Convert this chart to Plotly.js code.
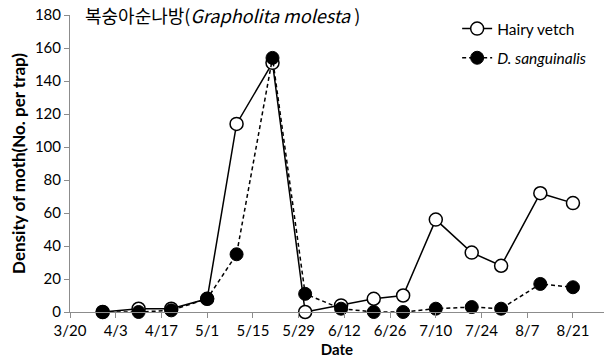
<!DOCTYPE html>
<html>
<head>
<meta charset="utf-8">
<script src="https://cdn.plot.ly/plotly-3.0.1.min.js"></script>
<style>html,body{margin:0;padding:0;background:#fff;}#chart{width:604px;height:362px;}</style>
</head>
<body>
<div id="chart"></div>
<script>
const dates = ['2013-03-30','2013-04-10','2013-04-20','2013-05-01','2013-05-10','2013-05-21','2013-05-31','2013-06-11','2013-06-21','2013-06-30','2013-07-10','2013-07-21','2013-07-30','2013-08-11','2013-08-21'];
const hairyVetch = [0, 2, 2, 8, 114, 151, 0, 4, 8, 10, 56, 36, 28, 72, 66];
const dSanguinalis = [0, 0, 1, 8, 35, 154, 11, 2, 0, 0, 2, 3, 2, 17, 15];
const seriesNames = ['Hairy vetch', '<i>D. sanguinalis</i>'];
const titleText = '복숭아순나방(<i>Grapholita molesta </i>)';
const xTitle = 'Date';
const yTitle = 'Density of moth(No. per trap)';

const baseFont = 'Lato, "Liberation Sans", sans-serif';

const traces = [
  {
    x: dates, y: hairyVetch, name: seriesNames[0], type: 'scatter', mode: 'lines+markers',
    legendgroup: 'a', cliponaxis: false,
    line: {color: '#000', width: 1.5},
    marker: {symbol: 'circle', size: 13, color: '#fff', line: {color: '#000', width: 1.5}}
  },
  {
    x: dates, y: dSanguinalis, name: seriesNames[1], type: 'scatter', mode: 'lines+markers',
    legendgroup: 'b', cliponaxis: false,
    line: {color: '#000', width: 1.5, dash: '4px,3px'},
    marker: {symbol: 'circle', size: 13, color: '#000', line: {color: '#000', width: 1}}
  }
];

const layout = {
  width: 604, height: 362,
  margin: {l: 70, r: 0, t: 15, b: 50},
  paper_bgcolor: '#fff', plot_bgcolor: '#fff',
  font: {family: baseFont, size: 15, color: '#000'},
  showlegend: true,
  legend: {
    x: 0.725, xanchor: 'left', y: 1.01, yanchor: 'top',
    traceorder: 'grouped', tracegroupgap: 6,
    font: {family: baseFont, size: 15.5, color: '#000'},
    bgcolor: 'rgba(0,0,0,0)'
  },
  xaxis: {
    type: 'date',
    range: ['2013-03-20', '2013-08-30 12:00'],
    tick0: '2013-03-20', dtick: 14 * 86400000,
    tickformat: '%-m/%-d',
    showgrid: false, zeroline: false,
    showline: true, linecolor: '#8c8c8c', linewidth: 1,
    ticks: 'outside', ticklen: 5, tickcolor: '#8c8c8c',
    tickfont: {family: baseFont, size: 15, color: '#000'},
    title: {text: '<b>' + xTitle + '</b>', font: {family: baseFont, size: 15, color: '#000'}, standoff: 6}
  },
  yaxis: {
    range: [0, 180], dtick: 20,
    showgrid: false, zeroline: false,
    showline: true, linecolor: '#8c8c8c', linewidth: 1,
    ticks: 'outside', ticklen: 5, tickcolor: '#8c8c8c',
    tickfont: {family: baseFont, size: 15, color: '#000'},
    title: {text: '<b>' + yTitle + '</b>', font: {family: baseFont, size: 17, color: '#000'}, standoff: 4}
  },
  annotations: [{
    text: titleText, xref: 'paper', yref: 'paper', x: 0.024, y: 1.0, xanchor: 'left', yanchor: 'middle',
    showarrow: false, font: {family: '"Noto Sans CJK KR", "Noto Sans", sans-serif', size: 18, color: '#000'}
  }]
};

Plotly.newPlot('chart', traces, layout, {displayModeBar: false, staticPlot: true});
</script>
</body>
</html>
